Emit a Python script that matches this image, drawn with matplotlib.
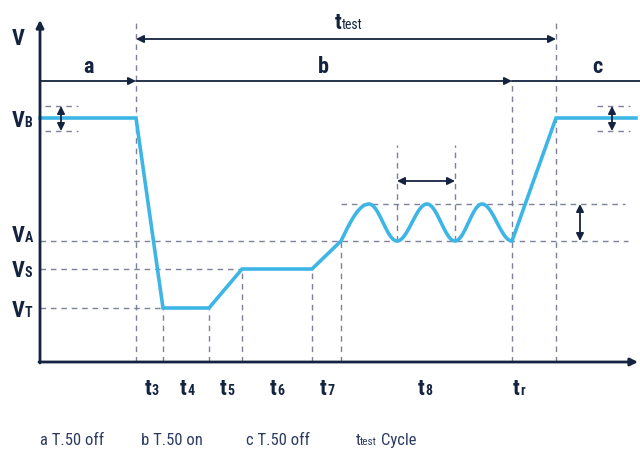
import numpy as np
import matplotlib.pyplot as plt
from matplotlib import font_manager

# pick a narrow face if the machine has one
names = {f.name for f in font_manager.fontManager.ttflist}
narrow = [n for n in ['Roboto Condensed', 'Liberation Sans Narrow', 'Open Sans Condensed']
          if n in names]
plt.rcParams['font.family'] = narrow + ['DejaVu Sans']
plt.rcParams['font.stretch'] = 'condensed'

# time marks along the axis
t_origin, t_axis_end = 40, 638
t3, t4, t5, t6, t7, t7a = 136, 163, 209, 242, 312, 341
t_osc = [369, 397, 427, 455, 482, 512]     # peaks / troughs of the ripple
t_r, t_end, t_last = 512, 556, 636

# voltage levels
V_axis, V_top = 87, 429
V_B, V_A, V_S, V_T = 331, 208, 180, 141
V_peak = 245
V_tol = [343, 318]

# waveform pieces
ramp_t = [t_origin, t3, t4, t5, t6, t7, t7a]
ramp_v = [V_B, V_B, V_T, V_T, V_S, V_S, V_A]
osc_v = [V_peak, V_A, V_peak, V_A, V_peak, V_A]
end_t = [t_end, t_last]
end_v = [V_B, V_B]

# labels (text, subscript, baseline)
v_labels = [('V', '', 404), ('V', 'B', 322), ('V', 'A', 207), ('V', 'S', 172), ('V', 'T', 132)]
t_labels = [('3', 152), ('4', 187), ('5', 227), ('6', 277), ('7', 327), ('8', 425), ('r', 520)]
legend_items = [('a T.50 off', 40), ('b T.50 on', 141), ('c T.50 off', 246)]

navy = '#14233f'
blue = '#3db6e6'
grey = '#7d8199'
text_c = '#2b3b61'

fig = plt.figure(figsize=(6.4, 4.49), dpi=100)
ax = fig.add_axes([0, 0, 1, 1])
ax.set_xlim(0, 640)
ax.set_ylim(0, 449)
ax.axis('off')


def hdash(x0, x1, y):
    ax.plot([x0, x1], [y, y], color=grey, lw=1.0, dashes=(4, 3.5), zorder=1)


def vdash(x, y0, y1):
    ax.plot([x, x], [y0, y1], color=grey, lw=1.0, dashes=(4, 3.5), zorder=1)


def arrow(p0, p1, style='<|-|>', lw=1.3):
    ax.annotate('', xy=p1, xytext=p0,
                arrowprops=dict(arrowstyle=style, color=navy, lw=lw,
                                mutation_scale=11, shrinkA=0, shrinkB=0))


# build waveform
xs = list(ramp_t)
ys = list(ramp_v)
x0, v0 = t7a, V_A
for i, (x1, v1) in enumerate(zip(t_osc, osc_v)):
    s = np.linspace(0, 1, 40)[1:]
    if i == 0:
        w = np.sin(np.pi / 2 * s)
    else:
        w = (1 - np.cos(np.pi * s)) / 2
    xs += list(x0 + (x1 - x0) * s)
    ys += list(v0 + (v1 - v0) * w)
    x0, v0 = x1, v1
xs += end_t
ys += end_v
ax.plot(xs, ys, color=blue, lw=2.6, solid_joinstyle='miter', zorder=3)

# dashed guides
hdash(t_origin, 628, V_A)
hdash(t7a, 625, V_peak)
hdash(t_origin, t6, V_S)
hdash(t_origin, t4, V_T)
for y in V_tol:
    hdash(45, 78, y)
    hdash(597, 630, y)
vdash(t3, V_axis, 427)
vdash(t_end, V_axis, 427)
vdash(t_r, V_axis, 368)
vdash(t4, V_axis, V_T)
vdash(t5, V_axis, V_T)
vdash(t6, V_axis, V_S)
vdash(t7, V_axis, V_S)
vdash(t7a, V_axis, V_A)
vdash(t_osc[1], V_A, 304)
vdash(t_osc[3], V_A, 304)

# axes
arrow((t_origin, V_axis - 1), (t_origin, V_top), style='-|>', lw=2.0)
arrow((t_origin - 1, V_axis), (t_axis_end, V_axis), style='-|>', lw=2.0)

# phase arrows
arrow((t_origin, 368), (t3, 368), style='-|>')
arrow((t3, 368), (t_r, 368), style='-|>')
ax.plot([t_r, 640], [368, 368], color=navy, lw=1.3)
arrow((t3, 410), (t_end, 410))
arrow((t_osc[1], 268), (t_osc[3], 268))
arrow((580, V_A), (580, V_peak))
arrow((61, V_tol[0]), (61, V_tol[1]))
arrow((612, V_tol[0]), (612, V_tol[1]))

# texts
for name, x in [('a', 88), ('b', 323), ('c', 597)]:
    ax.text(x, 376, name, color=navy, fontsize=16, fontweight='bold',
            ha='center', va='baseline')
ax.text(342, 420, 't', color=navy, fontsize=16, fontweight='bold',
        ha='right', va='baseline')
ax.text(342, 420, 'test', color=navy, fontsize=10, ha='left', va='baseline')

for main, sub, y in v_labels:
    ax.text(25, y, main, color=navy, fontsize=16, fontweight='bold',
            ha='right', va='baseline')
    if sub:
        ax.text(24.5, y, sub, color=navy, fontsize=10, fontweight='bold',
                ha='left', va='baseline')

for sub, x in t_labels:
    ax.text(x, 54, 't', color=navy, fontsize=16, fontweight='bold',
            ha='right', va='baseline')
    ax.text(x, 54, sub, color=navy, fontsize=10, fontweight='bold',
            ha='left', va='baseline')

for txt, x in legend_items:
    ax.text(x, 4, txt, color=text_c, fontsize=12, ha='left', va='baseline')
ax.text(356, 4, 't', color=text_c, fontsize=12, ha='left', va='baseline')
ax.text(360, 4, 'test', color=text_c, fontsize=8, ha='left', va='baseline')
ax.text(381, 4, 'Cycle', color=text_c, fontsize=12, ha='left', va='baseline')

fig.savefig('out.png', dpi=100)
